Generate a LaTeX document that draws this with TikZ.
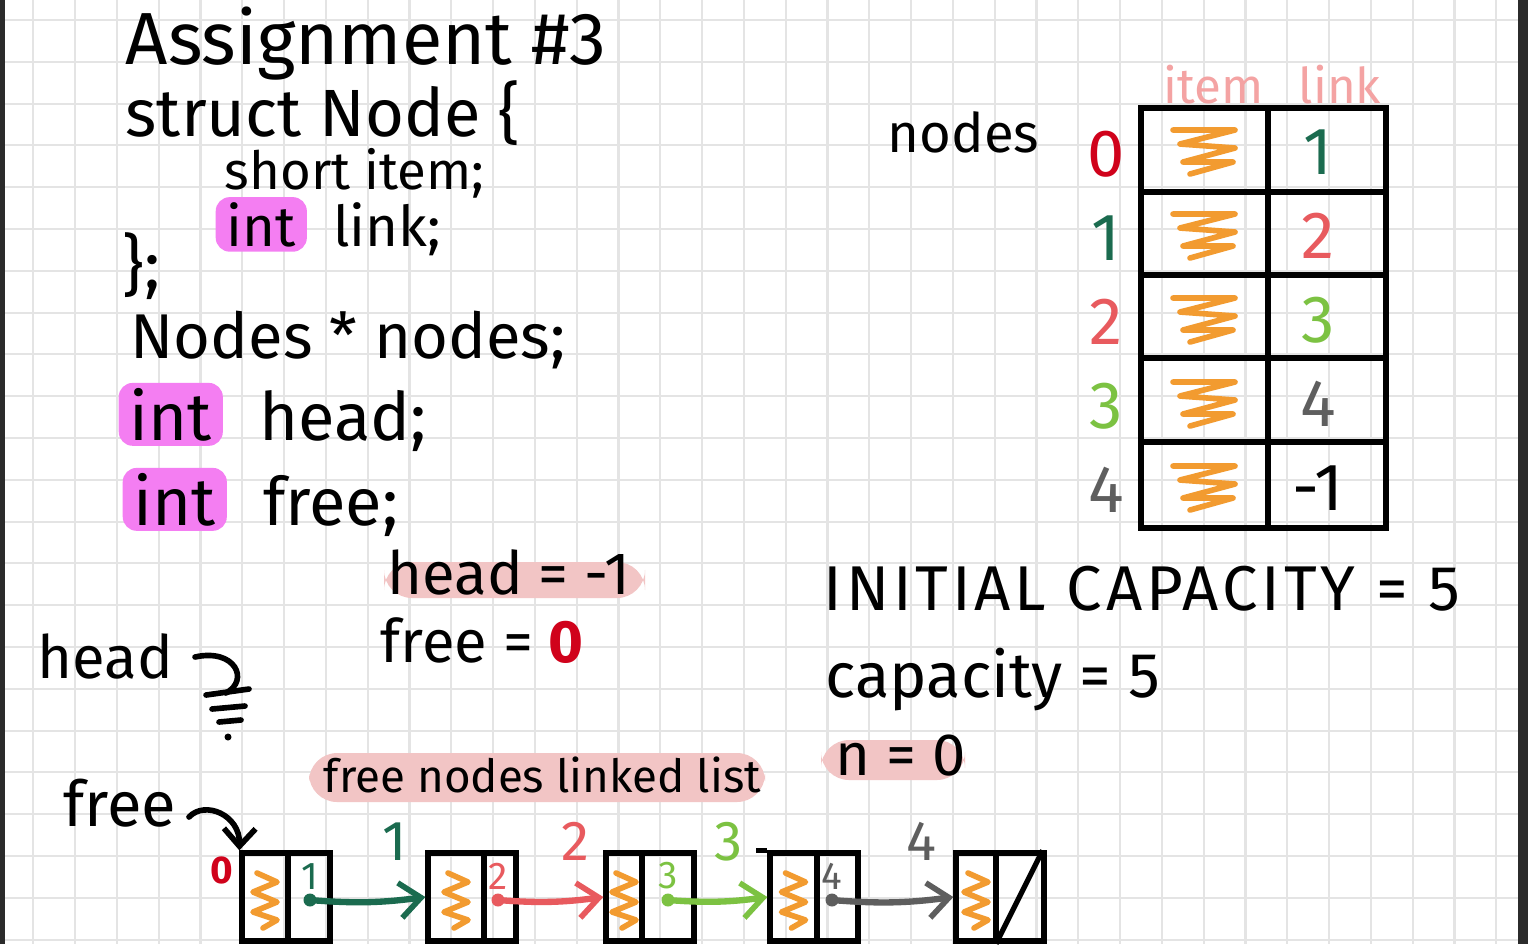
\documentclass[tikz,border=0pt]{standalone}
\usepackage{fontspec}
\setmainfont{Fira Sans}
\usetikzlibrary{positioning,arrows.meta}

\definecolor{zred}{HTML}{D0021B}
\definecolor{dkgreen}{HTML}{1B6B4F}
\definecolor{salmon}{HTML}{E85A5E}
\definecolor{lgreen}{HTML}{7CC242}
\definecolor{greyink}{HTML}{5E5E5E}
\definecolor{orangeink}{HTML}{F29B30}
\definecolor{magentahl}{HTML}{F47EF2}
\definecolor{pinkhl}{HTML}{F2C5C5}
\definecolor{pinkink}{HTML}{F4A3A3}
\definecolor{gridgrey}{HTML}{E4E4E4}
\definecolor{framedark}{HTML}{2B2B2B}

\tikzset{
  hand/.style={font=\fontsize{#1}{#1}\selectfont, inner sep=0pt, anchor=base west},
  hand/.default=21,
  hilite/.style={fill=magentahl, rounded corners=4pt, inner xsep=0.11cm, inner ysep=0.05cm},
  gridline/.style={draw=gridgrey, line width=0.6pt},
  tblline/.style={line width=1.5pt, line cap=round},
  inkline/.style={line width=1.6pt, line cap=round, line join=round},
  llbox/.style={draw, line width=1.5pt, minimum width=0.88cm, minimum height=0.88cm, inner sep=0pt},
  zigline/.style={draw=orangeink, line width=1.6pt, line cap=round, line join=round},
  llarrow/.style={line width=1.8pt, line cap=round, -{Straight Barb[length=6pt,width=10pt,line width=1.6pt]}},
  hzig/.pic={\draw[zigline] (-32,-20) -- (30,-20) -- (-25,-6) -- (30,-2) -- (-22,12) -- (28,12) -- (-15,24);},
  vzig/.pic={\draw[zigline] (-8,-27) -- (12,-18) -- (-12,-8) -- (12,2) -- (-12,12) -- (12,20) -- (-2,28);}
}

\begin{document}
\begin{tikzpicture}[x=0.01cm, y=-0.01cm]
\useasboundingbox (0,0) rectangle (1528,944);
\fill[white] (0,0) rectangle (1528,944);
% paper grid
\foreach \i in {0,...,35} \draw[gridline] ({33.3+41.8*\i},0) -- ({33.3+41.8*\i},944);
\foreach \j in {0,...,22} \draw[gridline] (5,{20+41.8*\j}) -- (1518,{20+41.8*\j});
\fill[framedark] (0,0) rectangle (5,944);
\fill[framedark] (1518,0) rectangle (1528,944);

% code on the left
\node[hand=21] (title) at (125,64) {Assignment \#3};
\node[hand=19] (structln) at (125,136) {struct Node \{};
\node[hand=15] (shortln) at (224,189) {short item;};
\node[hand=16, hilite] (ilink) at (215,246) {int};
\node[hand=16, base right=0.25cm of ilink] (linkln) {link;};
\node[hand=19] (closeln) at (122,288) {\};};
\node[hand=18] (nodesln) at (130,358) {Nodes * nodes;};
\node[hand=19, hilite] (ihead) at (118,440) {int};
\node[hand=19, base right=0.35cm of ihead] (headln) {head;};
\node[hand=19, hilite] (ifree) at (122,525) {int};
\node[hand=19, base right=0.35cm of ifree] (freeln) {free;};

% values
\fill[pinkhl, rounded corners=8pt] (384,562) rectangle (645,598);
\node[hand=17] (headval) at (387,594) {head = -1};
\node[hand=17] (freeval) at (380,662) {free = {\bfseries\color{zred}0}};

% head points to nothing
\node[hand=17] (headlbl) at (37,678) {head};
\coordinate (hnull) at (226,693);
\draw[inkline] (195,657) .. controls (235,648) and (250,680) .. (hnull);
\draw[inkline] (206,695) -- (249,689) (212,709) -- (245,706) (219,722) -- (241,720);
\fill (228,737) circle[radius=0.035cm];

% table of nodes
\node[hand=15.5] (nodeslbl) at (887,152) {nodes};
\node[hand=14, text=pinkink] (itemhd) at (1163,103) {item};
\node[hand=14, text=pinkink] (linkhd) at (1298,103) {link};
\draw[tblline] (1141,108) rectangle (1386,528);
\draw[tblline] (1268,108) -- (1268,528);
\foreach \y in {192,275,358,442} \draw[tblline] (1141,\y) -- (1386,\y);
\foreach \r/\ic/\lv/\lc in {0/zred/1/dkgreen, 1/dkgreen/2/salmon, 2/salmon/3/lgreen, 3/lgreen/4/greyink, 4/greyink/-1/black}{
  \node[hand=19, anchor=center, text=\ic] (idx\r) at (1106,{154+84*\r}) {\r};
  \pic at (1205,{150+84*\r}) {hzig};
  \node[hand=19, anchor=center, text=\lc] (lnk\r) at (1318,{152+84*\r}) {\lv};
}

% capacity
\node[hand=18, font=\fontsize{18}{18}\selectfont\addfontfeature{LetterSpace=6}] (initcap) at (823,610) {INITIAL CAPACITY = 5};
\node[hand=18] (cap) at (825,697) {capacity = 5};
\fill[pinkhl, rounded corners=8pt] (821,740) rectangle (965,780);
\node[hand=17] (nval) at (835,775) {n = 0};

% free list
\fill[pinkhl, rounded corners=8pt] (309,753) rectangle (765,802);
\node[hand=13] (freelist) at (323,792) {free nodes linked list};
\node[hand=18] (freelbl) at (63,826) {free};
\foreach \n/\x/\d in {1/286/2, 2/472/12, 3/650/-8, 4/814/3, 5/1000/-4}{
  \node[llbox] (b\n) at (\x,897) {};
  \draw[line width=1.5pt] ([xshift=\d*0.01cm]b\n.north) -- ([xshift=\d*0.01cm]b\n.south);
  \pic at ({\x-22+\d/2},900) {vzig};
}
\draw[line width=1.5pt] (b4.north west) -- ++(-11,0);
\draw[line width=1.5pt] ([xshift=-0.04cm]b5.south) -- ([xshift=-0.04cm]b5.north east);
\draw[inkline, -{Straight Barb[length=5pt,width=9pt]}] (189,817) .. controls (205,800) and (240,815) .. (b1.north west);
\node[font=\fontsize{11}{11}\selectfont\bfseries, text=zred] (zero0) at (222,870) {0};
\foreach \a/\b/\col/\dx/\p in {1/2/dkgreen/24/0.75, 2/3/salmon/26/0.75, 3/4/lgreen/18/0.62, 4/5/greyink/18/0.75}{
  \coordinate (d\a) at ([xshift=\dx*0.01cm, yshift=-0.03cm]b\a.center);
  \fill[\col] (d\a) circle[radius=0.065cm];
  \node[font=\fontsize{11}{11}\selectfont, text=\col, inner sep=0pt, above=0.1cm of d\a] (s\a) {\a};
  \draw[llarrow, \col] (d\a) to[bend right=6] node[pos=\p, above=0.25cm, font=\fontsize{16}{16}\selectfont, text=\col] (l\a) {\a} (b\b.west);
}
\end{tikzpicture}
\end{document}
